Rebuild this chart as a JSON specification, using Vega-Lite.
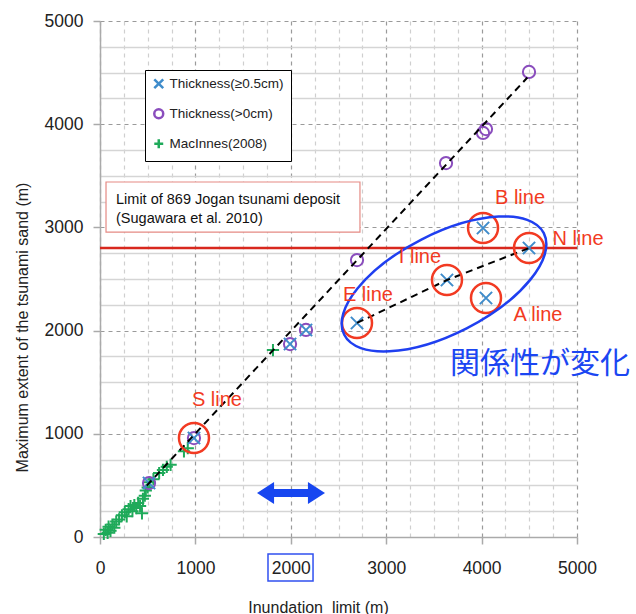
{
  "$schema": "https://vega.github.io/schema/vega-lite/v6.json",
  "width": 477,
  "height": 516,
  "autosize": {"type": "none"},
  "padding": {"left": 100, "top": 21, "right": 59, "bottom": 77},
  "background": "white",
  "config": {"view": {"stroke": null}, "font": "Liberation Sans"},
  "datasets": {
    "pts": [
      {"s": "MacInnes(2008)", "x": 40, "y": 30},
      {"s": "MacInnes(2008)", "x": 60, "y": 70},
      {"s": "MacInnes(2008)", "x": 80, "y": 40},
      {"s": "MacInnes(2008)", "x": 90, "y": 100},
      {"s": "MacInnes(2008)", "x": 110, "y": 60},
      {"s": "MacInnes(2008)", "x": 130, "y": 120},
      {"s": "MacInnes(2008)", "x": 150, "y": 90},
      {"s": "MacInnes(2008)", "x": 170, "y": 150},
      {"s": "MacInnes(2008)", "x": 200, "y": 170},
      {"s": "MacInnes(2008)", "x": 230, "y": 210},
      {"s": "MacInnes(2008)", "x": 260, "y": 240},
      {"s": "MacInnes(2008)", "x": 280, "y": 200},
      {"s": "MacInnes(2008)", "x": 300, "y": 270},
      {"s": "MacInnes(2008)", "x": 320, "y": 300},
      {"s": "MacInnes(2008)", "x": 340, "y": 250},
      {"s": "MacInnes(2008)", "x": 360, "y": 310},
      {"s": "MacInnes(2008)", "x": 380, "y": 280},
      {"s": "MacInnes(2008)", "x": 400, "y": 330},
      {"s": "MacInnes(2008)", "x": 420, "y": 300},
      {"s": "MacInnes(2008)", "x": 440, "y": 230},
      {"s": "MacInnes(2008)", "x": 450, "y": 370},
      {"s": "MacInnes(2008)", "x": 470, "y": 400},
      {"s": "MacInnes(2008)", "x": 480, "y": 450},
      {"s": "MacInnes(2008)", "x": 500, "y": 480},
      {"s": "MacInnes(2008)", "x": 520, "y": 530},
      {"s": "MacInnes(2008)", "x": 560, "y": 560},
      {"s": "MacInnes(2008)", "x": 620, "y": 620},
      {"s": "MacInnes(2008)", "x": 660, "y": 650},
      {"s": "MacInnes(2008)", "x": 700, "y": 680},
      {"s": "MacInnes(2008)", "x": 740, "y": 700},
      {"s": "MacInnes(2008)", "x": 880, "y": 830},
      {"s": "MacInnes(2008)", "x": 920, "y": 860},
      {"s": "MacInnes(2008)", "x": 1813, "y": 1812},
      {"s": "Thickness(>0cm)", "x": 514, "y": 523},
      {"s": "Thickness(>0cm)", "x": 985, "y": 959},
      {"s": "Thickness(>0cm)", "x": 1992, "y": 1870},
      {"s": "Thickness(>0cm)", "x": 2159, "y": 2006},
      {"s": "Thickness(>0cm)", "x": 2694, "y": 2684},
      {"s": "Thickness(>0cm)", "x": 3627, "y": 3624},
      {"s": "Thickness(>0cm)", "x": 4015, "y": 3915},
      {"s": "Thickness(>0cm)", "x": 4046, "y": 3953},
      {"s": "Thickness(>0cm)", "x": 4497, "y": 4506},
      {"s": "Thickness(≥0.5cm)", "x": 514, "y": 523},
      {"s": "Thickness(≥0.5cm)", "x": 985, "y": 959},
      {"s": "Thickness(≥0.5cm)", "x": 1992, "y": 1870},
      {"s": "Thickness(≥0.5cm)", "x": 2159, "y": 2006},
      {"s": "Thickness(≥0.5cm)", "x": 2694, "y": 2074},
      {"s": "Thickness(≥0.5cm)", "x": 3637, "y": 2490},
      {"s": "Thickness(≥0.5cm)", "x": 4015, "y": 2994},
      {"s": "Thickness(≥0.5cm)", "x": 4046, "y": 2316},
      {"s": "Thickness(≥0.5cm)", "x": 4497, "y": 2800}
    ],
    "lines": [
      {"g": "a", "o": 1, "x": 490, "y": 498},
      {"g": "a", "o": 2, "x": 4480, "y": 4452},
      {"g": "b", "o": 1, "x": 2694, "y": 2074},
      {"g": "b", "o": 2, "x": 3637, "y": 2490},
      {"g": "b", "o": 3, "x": 4497, "y": 2800}
    ],
    "circles": [
      {"x": 985, "y": 959},
      {"x": 2694, "y": 2074},
      {"x": 3637, "y": 2490},
      {"x": 4015, "y": 2994},
      {"x": 4497, "y": 2800},
      {"x": 4046, "y": 2316}
    ],
    "labels": [
      {"t": "S line", "x": 1226, "y": 1328},
      {"t": "E line", "x": 2809, "y": 2345},
      {"t": "I line", "x": 3354, "y": 2713},
      {"t": "B line", "x": 4403, "y": 3285},
      {"t": "N line", "x": 5010, "y": 2888},
      {"t": "A line", "x": 4591, "y": 2151}
    ]
  },
  "encoding": {
    "x": {"field": "x", "type": "quantitative", "scale": {"domain": [0, 5000], "nice": false, "zero": false},
      "axis": {
        "values": [0,250,500,750,1000,1250,1500,1750,2000,2250,2500,2750,3000,3250,3500,3750,4000,4250,4500,4750,5000],
        "format": "d",
        "labelExpr": "datum.value % 1000 === 0 ? datum.label : ''",
        "labelFontSize": 17.5, "labelColor": "#222", "labelPadding": 15, "labelFont": "Liberation Sans",
        "labelOverlap": false, "labelFlush": false,
        "tickSize": 7, "tickColor": "#aaaaaa", "tickWidth": 1.5,
        "tickOpacity": {"condition": {"test": "datum.value % 1000 === 0", "value": 1}, "value": 0},
        "domainColor": "#aaaaaa", "domainWidth": 1.5,
        "grid": true,
        "gridColor": {"condition": {"test": "datum.value % 1000 === 0", "value": "#9a9a9a"}, "value": "#cfcfcf"},
        "gridDash": [4, 4],
        "gridWidth": 1.2,
        "title": "Inundation\u00a0 limit (m)",
        "titleFontSize": 16, "titleFontWeight": "normal", "titleColor": "#222", "titleFont": "Liberation Sans",
        "titleX": 218, "titleY": 70, "titleAlign": "center", "titleBaseline": "middle"
      }},
    "y": {"field": "y", "type": "quantitative", "scale": {"domain": [0, 5000], "nice": false, "zero": false},
      "axis": {
        "values": [0,250,500,750,1000,1250,1500,1750,2000,2250,2500,2750,3000,3250,3500,3750,4000,4250,4500,4750,5000],
        "format": "d",
        "labelExpr": "datum.value % 1000 === 0 ? datum.label : ''",
        "labelFontSize": 17.5, "labelColor": "#222", "labelPadding": 10, "labelFont": "Liberation Sans",
        "labelOverlap": false, "labelFlush": false,
        "tickSize": 7, "tickColor": "#aaaaaa", "tickWidth": 1.5,
        "tickOpacity": {"condition": {"test": "datum.value % 1000 === 0", "value": 1}, "value": 0},
        "domainColor": "#aaaaaa", "domainWidth": 1.5,
        "grid": true,
        "gridColor": {"condition": {"test": "datum.value % 1000 === 0", "value": "#9a9a9a"}, "value": "#d5d5d5"},
        "gridDash": {"condition": {"test": "datum.value % 1000 === 0", "value": [4, 4]}, "value": [1, 0]},
        "gridWidth": {"condition": {"test": "datum.value % 1000 === 0", "value": 1.2}, "value": 1.5},
        "title": "Maximum extent of the tsunami sand (m)",
        "titleFontSize": 16, "titleFontWeight": "normal", "titleColor": "#222", "titleFont": "Liberation Sans",
        "titleX": -78, "titleY": 306, "titleAlign": "center", "titleBaseline": "middle", "titleAngle": 270
      }}
  },
  "layer": [
    {
      "data": {"values": [{"x": 63, "x2": 2725, "y": 2955, "y2": 3440}]},
      "mark": {"type": "rect", "fill": "white", "stroke": "#e58a84", "strokeWidth": 1.2},
      "encoding": {"x2": {"field": "x2"}, "y2": {"field": "y2"}}
    },
    {
      "data": {"values": [{"x": 168, "y": 3270, "t": "Limit of 869 Jogan tsunami deposit"}, {"x": 168, "y": 3085, "t": "(Sugawara et al. 2010)"}]},
      "mark": {"type": "text", "align": "left", "baseline": "middle", "fontSize": 14.5, "color": "#111", "font": "Liberation Sans"},
      "encoding": {"text": {"field": "t"}}
    },
    {
      "data": {"values": [{"x": 0, "x2": 5000, "y": 2800}]},
      "mark": {"type": "rule", "color": "#d8281e", "strokeWidth": 2.5},
      "encoding": {"x2": {"field": "x2"}}
    },
    {
      "data": {"name": "pts"},
      "mark": {"type": "point", "filled": false, "strokeWidth": 2, "size": 150, "opacity": 1},
      "encoding": {
        "color": {"field": "s", "type": "nominal",
          "scale": {"domain": ["Thickness(≥0.5cm)", "Thickness(>0cm)", "MacInnes(2008)"], "range": ["#3f8ccb", "#8a4dbd", "#1faa5a"]},
          "legend": {"orient": "none", "legendX": 45, "legendY": 49, "title": null, "strokeColor": "black", "fillColor": "white",
            "padding": 7, "rowPadding": 10, "labelFontSize": 13.5, "labelColor": "#222", "labelFont": "Liberation Sans",
            "symbolSize": 80, "symbolStrokeWidth": 2.5, "labelOffset": 4}},
        "shape": {"field": "s", "type": "nominal",
          "scale": {"domain": ["Thickness(≥0.5cm)", "Thickness(>0cm)", "MacInnes(2008)"], "range": ["M-1,-1L1,1M-1,1L1,-1", "circle", "M-1,0L1,0M0,-1L0,1"]}}
      }
    },
    {
      "data": {"name": "lines"},
      "mark": {"type": "line", "color": "black", "strokeWidth": 2, "strokeDash": [7, 5]},
      "encoding": {"detail": {"field": "g"}, "order": {"field": "o"}}
    },
    {
      "data": {"name": "circles"},
      "mark": {"type": "point", "shape": "circle", "filled": false, "size": 900, "stroke": "#f23a22", "strokeWidth": 2.5, "opacity": 1},
      "encoding": {}
    },
    {
      "data": {"values": [{"x": 3606, "y": 2452}]},
      "mark": {"type": "point", "shape": "M-1,0A1,0.445,0,1,1,1,0A1,0.445,0,1,1,-1,0Z", "filled": false, "size": 50176, "angle": 333, "stroke": "#1f3ff0", "strokeWidth": 2.5, "opacity": 1},
      "encoding": {}
    },
    {
      "data": {"name": "labels"},
      "mark": {"type": "text", "align": "center", "baseline": "middle", "fontSize": 20, "color": "#f23a22", "font": "Liberation Sans"},
      "encoding": {"text": {"field": "t"}}
    },
    {
      "data": {"values": [{"x": 4612, "y": 1676, "t": "関係性が変化"}]},
      "mark": {"type": "text", "align": "center", "baseline": "middle", "fontSize": 30, "color": "#1b46f2", "font": "Noto Sans CJK JP"},
      "encoding": {"text": {"field": "t"}}
    },
    {
      "data": {"values": [{"x": 1738, "x2": 2266, "y": 426}]},
      "mark": {"type": "rule", "color": "#1746f0", "strokeWidth": 8},
      "encoding": {"x2": {"field": "x2"}}
    },
    {
      "data": {"values": [{"x": 1738, "y": 426}]},
      "mark": {"type": "point", "shape": "M-0.8,0L0.75,-1L0.75,1Z", "filled": true, "size": 484, "color": "#1746f0", "opacity": 1},
      "encoding": {}
    },
    {
      "data": {"values": [{"x": 2266, "y": 426}]},
      "mark": {"type": "point", "shape": "M0.8,0L-0.75,-1L-0.75,1Z", "filled": true, "size": 484, "color": "#1746f0", "opacity": 1},
      "encoding": {}
    },
    {
      "data": {"values": [{"x": 1761, "x2": 2233, "y": -427, "y2": -165}]},
      "mark": {"type": "rect", "fill": null, "fillOpacity": 0, "stroke": "#3050f0", "strokeWidth": 1.5},
      "encoding": {"x2": {"field": "x2"}, "y2": {"field": "y2"}}
    }
  ]
}
